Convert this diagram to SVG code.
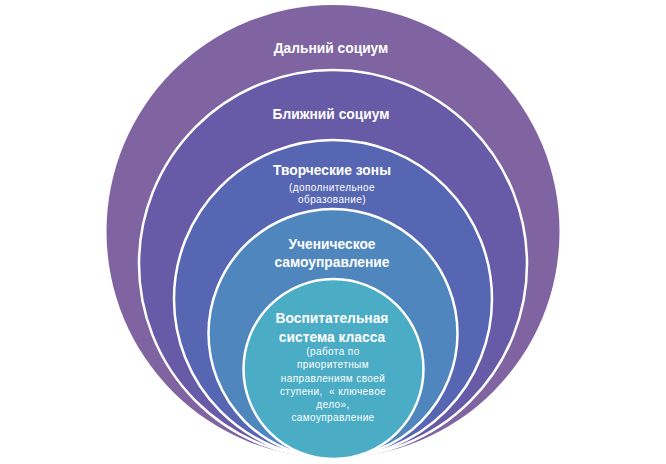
<svg xmlns="http://www.w3.org/2000/svg" width="666" height="464" viewBox="0 0 666 464">
  <style>
    .ring { stroke: #ffffff; stroke-width: 2.5; }
    .t { font-family: "Liberation Sans", Arial, sans-serif; font-weight: bold; font-size: 13.8px; fill: #ffffff; text-anchor: middle; }
    .s { font-family: "Liberation Sans", Arial, sans-serif; font-size: 10px; letter-spacing: 0.4px; fill: #ffffff; text-anchor: middle; white-space: pre; }
  </style>
  <rect width="666" height="464" fill="#ffffff"/>
  <g id="node-far">
    <circle cx="333" cy="231.5" r="226.5" fill="#8064A2"/>
    <text class="t" x="331" y="53">Дальний социум</text>
  </g>
  <g id="node-near">
    <circle class="ring" cx="333" cy="264" r="194" fill="#675AA7"/>
    <text class="t" x="331" y="119">Ближний социум</text>
  </g>
  <g id="node-creative">
    <circle class="ring" cx="333" cy="299" r="159" fill="#5766B3"/>
    <text class="t" x="332" y="175">Творческие зоны</text>
    <text class="s" x="332" y="191">(дополнительное</text>
    <text class="s" x="332" y="203">образование)</text>
  </g>
  <g id="node-selfgov">
    <circle class="ring" cx="333" cy="333.5" r="124.5" fill="#4F86BE"/>
    <text class="t" x="332" y="249">Ученическое</text>
    <text class="t" x="332" y="267">самоуправление</text>
  </g>
  <g id="node-class">
    <circle class="ring" cx="333.5" cy="369" r="90" fill="#4BACC6"/>
    <text class="t" x="332" y="323">Воспитательная</text>
    <text class="t" x="332" y="342">система класса</text>
    <text class="s" x="333" y="355">(работа по</text>
    <text class="s" x="333" y="368">приоритетным</text>
    <text class="s" x="333" y="382">направлениям своей</text>
    <text class="s" x="333" y="395" xml:space="preserve">ступени,  « ключевое</text>
    <text class="s" x="333" y="408">дело»,</text>
    <text class="s" x="333" y="421">самоуправление</text>
  </g>
  <g id="connectors"/>
</svg>
